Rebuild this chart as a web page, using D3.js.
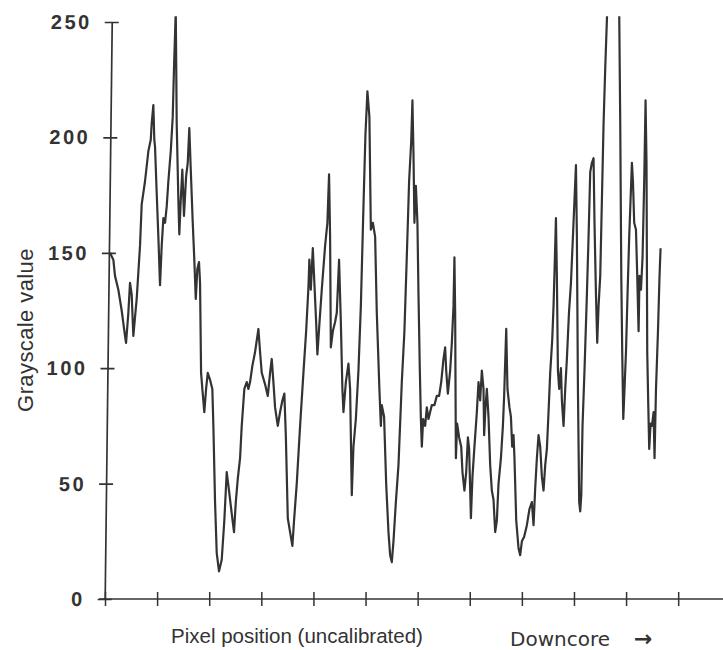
<!DOCTYPE html>
<html>
<head>
<meta charset="utf-8">
<script src="https://cdn.jsdelivr.net/npm/d3@7"></script>
<style>
  body { margin: 0; background: #fff; }
  svg { display: block; }
</style>
</head>
<body>
<div id="chart"></div>
<script>
// grayscale profile, position in uncalibrated pixels
const position = [
  4.8, 8, 9.6, 12.8, 16, 19.2, 20.2, 22.4, 24, 25.6, 27.2, 30.4, 33.6, 35.2, 38.4, 41.6, 43.9, 44.8, 46.4, 47.3,
  48, 49.6, 51.2, 52.8, 54.4, 56, 57.6, 59.2, 60.8, 63.1, 65, 66.2, 67.9, 68.8, 70.4, 71.3, 72.7, 74.2, 75.8, 77.8,
  79.4, 80.9, 82.3, 84.2, 85.7, 87.1, 88.6, 90.2, 91.2, 92.2, 93.4, 95.3, 97, 98.6, 100.8, 103, 104, 105.6, 107.2, 109.4,
  112, 114.5, 116.8, 119, 121.6, 123.8, 125.5, 127.4, 129.6, 131.2, 133.7, 136, 137.6, 139.2, 141.4, 144, 147.2, 148.8, 150.4, 153.6,
  156.2, 158.4, 160, 161.6, 163.2, 165.8, 168, 170.2, 172.1, 173.5, 175.4, 177.6, 179.8, 181.4, 184, 187.2, 190.4, 193, 195.2, 196.1,
  197.5, 199.4, 200.6, 202.6, 203.8, 205.7, 208, 211.2, 213.4, 215, 216, 216.7, 218.6, 220.8, 222.4, 224.6, 226.3, 227.8, 228.8, 231.1,
  233.6, 235.2, 236.8, 238.4, 240.7, 243.2, 245.5, 248, 249.9, 251.8, 253.7, 255.1, 257, 259.2, 260.8, 263.3, 264.7, 265.6, 267.8, 269.8,
  272, 273.6, 275.2, 276.8, 279.1, 281.6, 284.8, 287.3, 289, 290.6, 291.8, 293.8, 295, 296, 296.9, 298.3, 299.8, 300.8, 302.1, 303.1,
  304, 305.3, 307.2, 308.8, 310.4, 312, 313.6, 316.1, 318.4, 320.6, 322.6, 324.8, 326.4, 327.4, 329, 331.2, 332.8, 334.4, 335.3, 336,
  336.7, 337.9, 339.8, 341.8, 343, 344.9, 346.6, 348.2, 349.4, 351.1, 352.6, 354.5, 356.8, 358.4, 360, 361.6, 363.2, 363.8, 365.1, 366.4,
  368, 369.6, 371.2, 372.8, 374.4, 376, 377.6, 379.9, 381.8, 383, 384.3, 385, 386.2, 388.1, 389.5, 390.7, 392, 392.9, 394.6, 396.8,
  398.4, 400, 402.2, 404.8, 407.3, 409.6, 411.2, 412.8, 414.4, 416, 417.6, 419.2, 420.8, 422.4, 424, 425.6, 427.2, 429.1, 430.4, 431.7,
  432.7, 433.6, 434.6, 435.8, 437.5, 438.4, 440, 441.6, 443.2, 445.2, 447.1, 449, 450.5, 451.9, 452.8, 453.8, 455, 456, 457, 458.2,
  460.1, 462.4, 464, 465.6, 467.2, 468.8, 469.7, 471.1, 472.3, 473.6, 475.2, 476.8, 478.4, 480, 481.9, 487.7, 493.4, 494.4, 495.4, 496.3,
  497.3, 498.5, 499.9, 501.4, 503, 504.3, 505.6, 506.6, 507.8, 509.5, 510.7, 512, 512.9, 514.3, 515.8, 517.4, 518.7, 519.6, 520.3, 521.3,
  522.2, 523.5, 524.8, 526.4, 527.3, 528.7, 530.6, 532.1, 533.1
];
const grayscale = [
  150, 147, 140, 134, 125, 114, 111, 124, 137, 132, 114, 130, 153, 171, 181, 194, 199, 206, 214, 199,
  196, 176, 157, 136, 153, 165, 163, 170, 181, 194, 209, 230, 255, 206, 173, 158, 173, 186, 166, 183,
  189, 204, 186, 163, 147, 130, 143, 146, 137, 98, 91, 81, 91, 98, 95, 91, 75, 42, 20, 12,
  17, 34, 55, 47, 37, 29, 42, 52, 61, 75, 91, 94, 91, 94, 101, 107, 117, 107, 98, 93,
  88, 98, 104, 94, 83, 75, 81, 86, 89, 71, 35, 29, 23, 34, 50, 75, 98, 116, 135, 147,
  134, 152, 140, 120, 106, 119, 134, 153, 163, 184, 157, 109, 116, 120, 124, 147, 120, 91, 81, 94,
  102, 91, 45, 66, 78, 99, 127, 170, 201, 220, 209, 160, 163, 157, 124, 91, 75, 84, 79, 50,
  29, 19, 16, 25, 42, 58, 94, 116, 140, 163, 181, 198, 216, 193, 163, 179, 163, 132, 99, 78,
  66, 78, 75, 83, 78, 81, 84, 84, 88, 88, 94, 104, 109, 99, 89, 99, 111, 127, 148, 124,
  61, 76, 70, 66, 55, 47, 55, 70, 65, 35, 53, 66, 81, 94, 86, 99, 91, 71, 83, 91,
  79, 58, 47, 43, 29, 34, 50, 61, 75, 88, 107, 117, 91, 83, 79, 66, 71, 61, 34, 22,
  19, 25, 27, 32, 39, 42, 32, 48, 61, 71, 66, 53, 47, 58, 65, 81, 98, 112, 127, 148,
  165, 140, 99, 91, 100, 86, 75, 91, 104, 124, 137, 157, 173, 188, 157, 91, 42, 38, 45, 75,
  99, 132, 157, 185, 189, 191, 163, 132, 111, 127, 140, 173, 206, 230, 255, 255, 255, 206, 140, 107,
  78, 91, 107, 132, 157, 173, 189, 181, 163, 160, 140, 116, 140, 134, 148, 181, 216, 189, 107, 84,
  65, 76, 75, 81, 61, 91, 116, 140, 152
];
const yTicks = [0, 50, 100, 150, 200, 250];
const xTicks = [0, 50, 100, 150, 200, 250, 300, 350, 400, 450, 500, 550];

const width = 723,
  height = 650,
  ink = '#333';

const svg = d3.select('#chart').append('svg')
  .attr('width', width)
  .attr('height', height);

const x = d3.scaleLinear().domain([0, 593]).range([105, 723]);
const y = d3.scaleLinear().domain([0, 250]).range([599, 22]);

// the scanner saturates a bit above the top tick
svg.append('defs').append('clipPath')
  .attr('id', 'plot-clip')
  .append('rect')
  .attr('x', 0)
  .attr('y', y(252.5))
  .attr('width', width)
  .attr('height', height);

// x axis: ticks only, no labels
const xAxis = svg.append('g')
  .attr('transform', 'translate(0,' + y(0) + ')')
  .call(d3.axisBottom(x).tickValues(xTicks).tickSize(7).tickFormat(''));
xAxis.select('.domain').remove();
xAxis.selectAll('.tick line')
  .attr('y1', -7)
  .attr('stroke', ink)
  .attr('stroke-width', 1.5);
xAxis.append('line')
  .attr('x1', 99)
  .attr('x2', width)
  .attr('stroke', ink)
  .attr('stroke-width', 1.6);

// y axis, slightly leaning like the scanned original
const yAxis = svg.append('g')
  .attr('transform', 'translate(112,0) skewX(-0.7)')
  .call(d3.axisLeft(y).tickValues(yTicks).tickSize(7).tickSizeOuter(0).tickPadding(13));
yAxis.select('.domain')
  .attr('stroke', ink)
  .attr('stroke-width', 1.7);
yAxis.selectAll('.tick line')
  .attr('x1', 7)
  .attr('stroke', ink)
  .attr('stroke-width', 1.7);
yAxis.selectAll('.tick text')
  .attr('fill', ink)
  .style('font-family', '"Liberation Sans", Arial, sans-serif')
  .style('font-size', '20px')
  .style('font-weight', 'bold')
  .style('letter-spacing', '2.5px');

// the profile
const line = d3.line()
  .x((d, i) => x(position[i]))
  .y(d => y(d));

svg.append('path')
  .datum(grayscale)
  .attr('clip-path', 'url(#plot-clip)')
  .attr('fill', 'none')
  .attr('stroke', '#333')
  .attr('stroke-width', 2.2)
  .attr('stroke-linejoin', 'round')
  .attr('d', line);

// labels
svg.append('text')
  .attr('transform', 'translate(33,330) rotate(-90)')
  .attr('text-anchor', 'middle')
  .attr('fill', ink)
  .style('font-family', '"Liberation Sans", Arial, sans-serif')
  .style('font-size', '22px')
  .style('letter-spacing', '0.4px')
  .text('Grayscale value');

svg.append('text')
  .attr('x', 297)
  .attr('y', 643)
  .attr('text-anchor', 'middle')
  .attr('fill', ink)
  .style('font-family', '"Liberation Sans", Arial, sans-serif')
  .style('font-size', '20.5px')
  .text('Pixel position (uncalibrated)');

svg.append('text')
  .attr('x', 510)
  .attr('y', 646)
  .attr('fill', ink)
  .style('font-family', '"DejaVu Sans", sans-serif')
  .style('font-size', '20px')
  .text('Downcore');

svg.append('text')
  .attr('x', 634)
  .attr('y', 646)
  .attr('fill', ink)
  .style('font-family', '"DejaVu Sans", sans-serif')
  .style('font-size', '22px')
  .style('font-weight', 'bold')
  .text('→');
</script>
</body>
</html>
